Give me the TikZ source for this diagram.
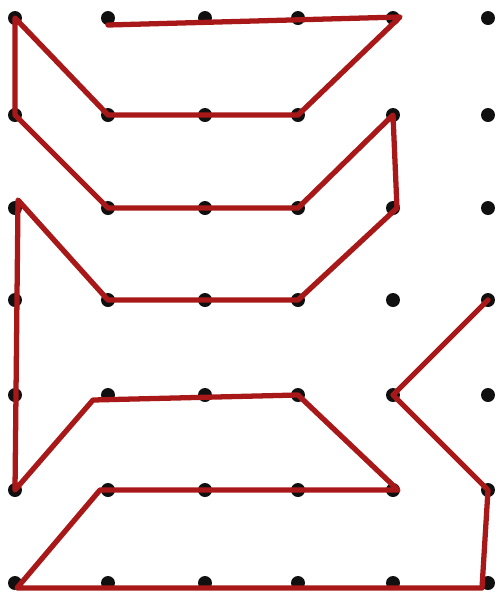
\documentclass[tikz,border=0pt]{standalone}
\usetikzlibrary{calc}
\definecolor{trailred}{HTML}{A81818}
\definecolor{ink}{HTML}{101010}

\begin{document}
\begin{tikzpicture}[
      x=0.02cm,y=-0.02cm,
      dot/.style={circle,fill=ink,inner sep=0pt,minimum size=0.28cm},
      trail/.style={line width=3pt,draw=trailred,line join=round,line cap=round}
    ]
      \useasboundingbox (0,0) rectangle (501,593);

      % grid of dots, d<col><row>
      \foreach \c/\x in {0/15,1/108,2/205,3/298,4/393,5/488} {
        \foreach \r/\y in {0/18,1/115,2/208,3/300,4/395,5/490,6/583} {
          \node[dot] (d\c\r) at (\x,\y) {};
        }
      }

      % the one line through the dots
      \draw[trail] ($(d10)+(0,7)$) -- ($(d40)+(7,-1)$) -- (d31.center) -- (d11.center)
        -- (d00.center) -- (d01.center) -- (d12.center) -- (d32.center)
        -- (d41.center) -- ($(d42)+(4,0)$) -- (d33.center) -- (d13.center)
        -- ($(d02)+(3,-8)$) -- (d05.center) -- ($(d14)+(-15,5)$) -- (d34.center)
        -- ($(d45)+(5,0)$) -- ($(d15)+(-8,0)$) -- ($(d06)+(2,5)$)
        -- ($(d56)+(-6,5)$) -- (d55.center) -- (d44.center) -- (d53.center);

    \end{tikzpicture}
\end{document}
